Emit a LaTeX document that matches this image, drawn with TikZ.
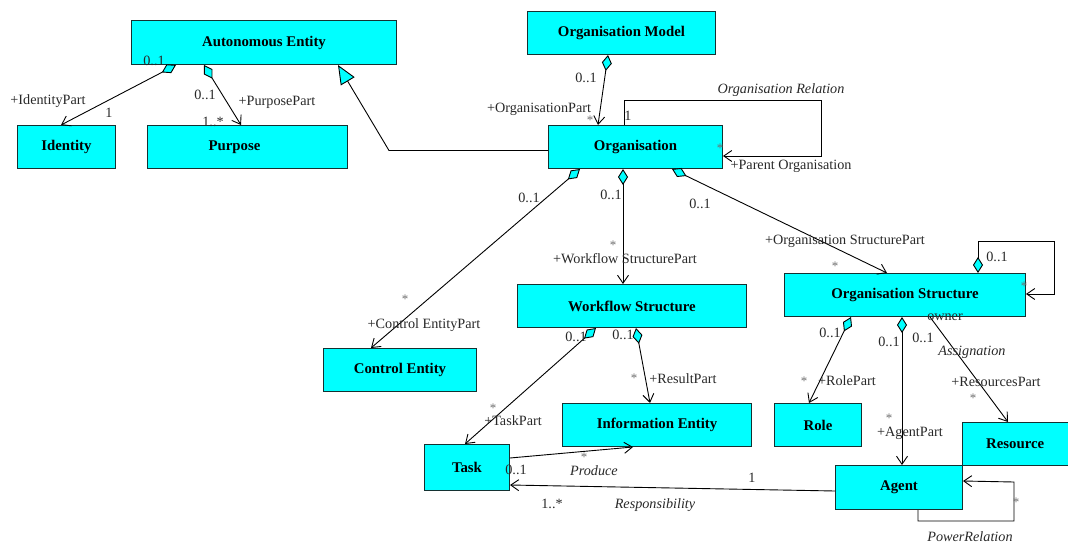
\documentclass[tikz,border=0pt]{standalone}
\usepackage{fontspec}
\setmainfont{Liberation Serif}
\usetikzlibrary{arrows.meta,calc}
\definecolor{boxfill}{RGB}{0,255,255}
\definecolor{boxedge}{RGB}{20,50,50}
\definecolor{lbltext}{RGB}{40,40,40}
\definecolor{startext}{RGB}{110,110,110}
\begin{document}
\begin{tikzpicture}[x=1pt,y=-1pt,
  cls/.style={draw=boxedge,fill=boxfill,line width=1pt,inner sep=0pt,anchor=north west,
              font=\fontsize{14.8}{16}\selectfont\bfseries},
  lbl/.style={inner sep=0pt,text=lbltext,font=\fontsize{14.2}{15}\selectfont},
  rname/.style={lbl,font=\fontsize{14.2}{15}\selectfont\itshape},
  star/.style={inner sep=0pt,text=startext,font=\fontsize{13}{14}\selectfont},
  conn/.style={draw=black,line width=0.9pt},
  nav/.style={conn,-{Straight Barb[length=8pt,width=11pt]}},
  agg/.style={conn,{Diamond[length=16pt,width=10pt,fill=boxfill]}-{Straight Barb[length=8pt,width=11pt]}},
  gen/.style={conn,-{Triangle[length=19pt,width=16pt,fill=boxfill]}},
]
\useasboundingbox (0,0) rectangle (1068,546);

% classes
\node[cls,minimum width=265pt,minimum height=44pt] (ae) at (131,20) {Autonomous Entity};
\node[cls,minimum width=98pt,minimum height=43pt] (identity) at (17,125) {Identity};
\node[cls,minimum width=200pt,minimum height=43pt] (purpose) at (147,125) {\hspace*{-26pt}Purpose};
\node[cls,minimum width=188pt,minimum height=43pt] (om) at (527,11) {Organisation Model};
\node[cls,minimum width=174pt,minimum height=43pt] (org) at (548,125) {Organisation};
\node[cls,minimum width=241pt,minimum height=43pt] (os) at (784,273) {Organisation Structure};
\node[cls,minimum width=229pt,minimum height=43pt] (ws) at (517,284) {Workflow Structure};
\node[cls,minimum width=153pt,minimum height=43pt] (ce) at (323,348) {Control Entity};
\node[cls,minimum width=189pt,minimum height=43pt] (ie) at (562,403) {Information Entity};
\node[cls,minimum width=85pt,minimum height=46pt] (task) at (424,444) {Task};
\node[cls,minimum width=87pt,minimum height=43pt] (role) at (774,403) {Role};
\node[cls,minimum width=105.5pt,minimum height=43pt] (res) at (962,422) {Resource};
\node[cls,minimum width=127pt,minimum height=44pt] (agent) at (835,465) {Agent};

% aggregations (diamond at the whole, open arrow at the part)
\draw[agg] ($(ae.south west)+(45,0)$) -- ($(identity.north west)+(44,0)$);
\draw[agg] ($(ae.south west)+(73,0)$) -- ($(purpose.north west)+(94,0)$);
\draw[agg] ($(om.south west)+(81,0)$) -- ($(org.north west)+(50,0)$);
\draw[agg] ($(org.south west)+(32,0)$) -- ($(ce.north west)+(48,0)$);
\draw[agg] ($(org.south west)+(75,0)$) -- ($(ws.north west)+(106,0)$);
\draw[agg] ($(org.south west)+(124,0)$) -- ($(os.north west)+(103,0)$);
\draw[agg] ($(ws.south west)+(79,0)$) -- ($(task.north west)+(41,0)$);
\draw[agg] ($(ws.south west)+(119,0)$) -- ($(ie.north west)+(88,0)$);
\draw[agg] ($(os.south west)+(67,0)$) -- ($(role.north west)+(35,0)$);
\draw[agg] ($(os.south west)+(118,0)$) -- ($(agent.north west)+(67,0)$);
\draw[agg] ($(os.north west)+(194,0)$) -- ++(0,-32) -| ++(76,53) -- ($(os.north east)+(0,21)$);

% generalisation
\draw[gen] ($(org.west)+(0,3.5)$) -- ++(-159,0) -- ($(ae.south west)+(207,0)$);

% associations
\draw[nav] ($(org.north west)+(76,0)$) -- ++(0,-25) -| ++(197,56) -- ($(org.north east)+(0,31)$);
\draw[nav] ($(os.south west)+(146,0)$) -- ($(res.north west)+(46,0)$);
\draw[nav] ($(task.north east)+(0,14)$) -- ($(ie.south west)+(71,0)$);
\draw[nav] ($(agent.north west)+(0,26)$) -- ($(task.north east)+(0,41)$);
\draw[nav] ($(agent.south west)+(83,0)$) -- ++(0,11) -| ++(96,-39) -- ($(agent.north east)+(0,16)$);

% role names and multiplicities
\node[lbl] (m1) at (154,61) {0..1};
\node[lbl] (m2) at (48,101) {+IdentityPart};
\node[lbl] (m3) at (109,113) {1};
\node[lbl] (m4) at (205,95) {0..1};
\node[lbl] (m5) at (277,102) {+PurposePart};
\node[lbl] (m6) at (213,122) {1..*};

\node[lbl] (m7) at (586,78) {0..1};
\node[lbl] (m8) at (539,109) {+OrganisationPart};
\node[star] (m9) at (590,120) {*};

\node[lbl] (m10) at (628,116) {1};
\node[rname] (m11) at (781,90) {Organisation Relation};
\node[star] (m12) at (720,148) {*};
\node[lbl] (m13) at (791,166) {+Parent Organisation};

\node[lbl] (m14) at (529,198) {0..1};
\node[star] (m15) at (405,299) {*};
\node[lbl] (m16) at (424,325) {+Control EntityPart};

\node[lbl] (m17) at (611,195) {0..1};
\node[lbl] (m18) at (625,259) {+Workflow StructurePart};
\node[star] (m19) at (613,245) {*};

\node[lbl] (m20) at (700,204) {0..1};
\node[lbl] (m21) at (845,241) {+Organisation StructurePart};
\node[star] (m22) at (835,266) {*};

\node[lbl] (m23) at (997,257) {0..1};
\node[star] (m24) at (1024,286) {*};

\node[lbl] (m25) at (576,337) {0..1};
\node[star] (m26) at (493,408) {*};
\node[lbl] (m27) at (513,421) {+TaskPart};

\node[lbl] (m28) at (623,335) {0..1};
\node[star] (m29) at (634,378) {*};
\node[lbl] (m30) at (683,379) {+ResultPart};

\node[lbl] (m31) at (516,470) {0..1};
\node[rname] (m32) at (594,471) {Produce};
\node[star] (m33) at (584,457) {*};

\node[lbl] (m34) at (752,478) {1};
\node[lbl] (m35) at (552,504) {1..*};
\node[rname] (m36) at (655,505) {Responsibility};

\node[lbl] (m37) at (830,333) {0..1};
\node[star] (m38) at (804,381) {*};
\node[lbl] (m39) at (847,381) {+RolePart};

\node[lbl] (m40) at (889,342) {0..1};
\node[lbl] (m41) at (910,433) {+AgentPart};
\node[star] (m42) at (889,418) {*};

\node[lbl] (m43) at (945,317) {owner};
\node[lbl] (m44) at (923,338) {0..1};
\node[rname] (m45) at (972,352) {Assignation};
\node[lbl] (m46) at (996,382) {+ResourcesPart};
\node[star] (m47) at (973,398) {*};

\node[star] (m48) at (1016,502) {*};
\node[rname] (m49) at (970,537) {PowerRelation};
\end{tikzpicture}
\end{document}
